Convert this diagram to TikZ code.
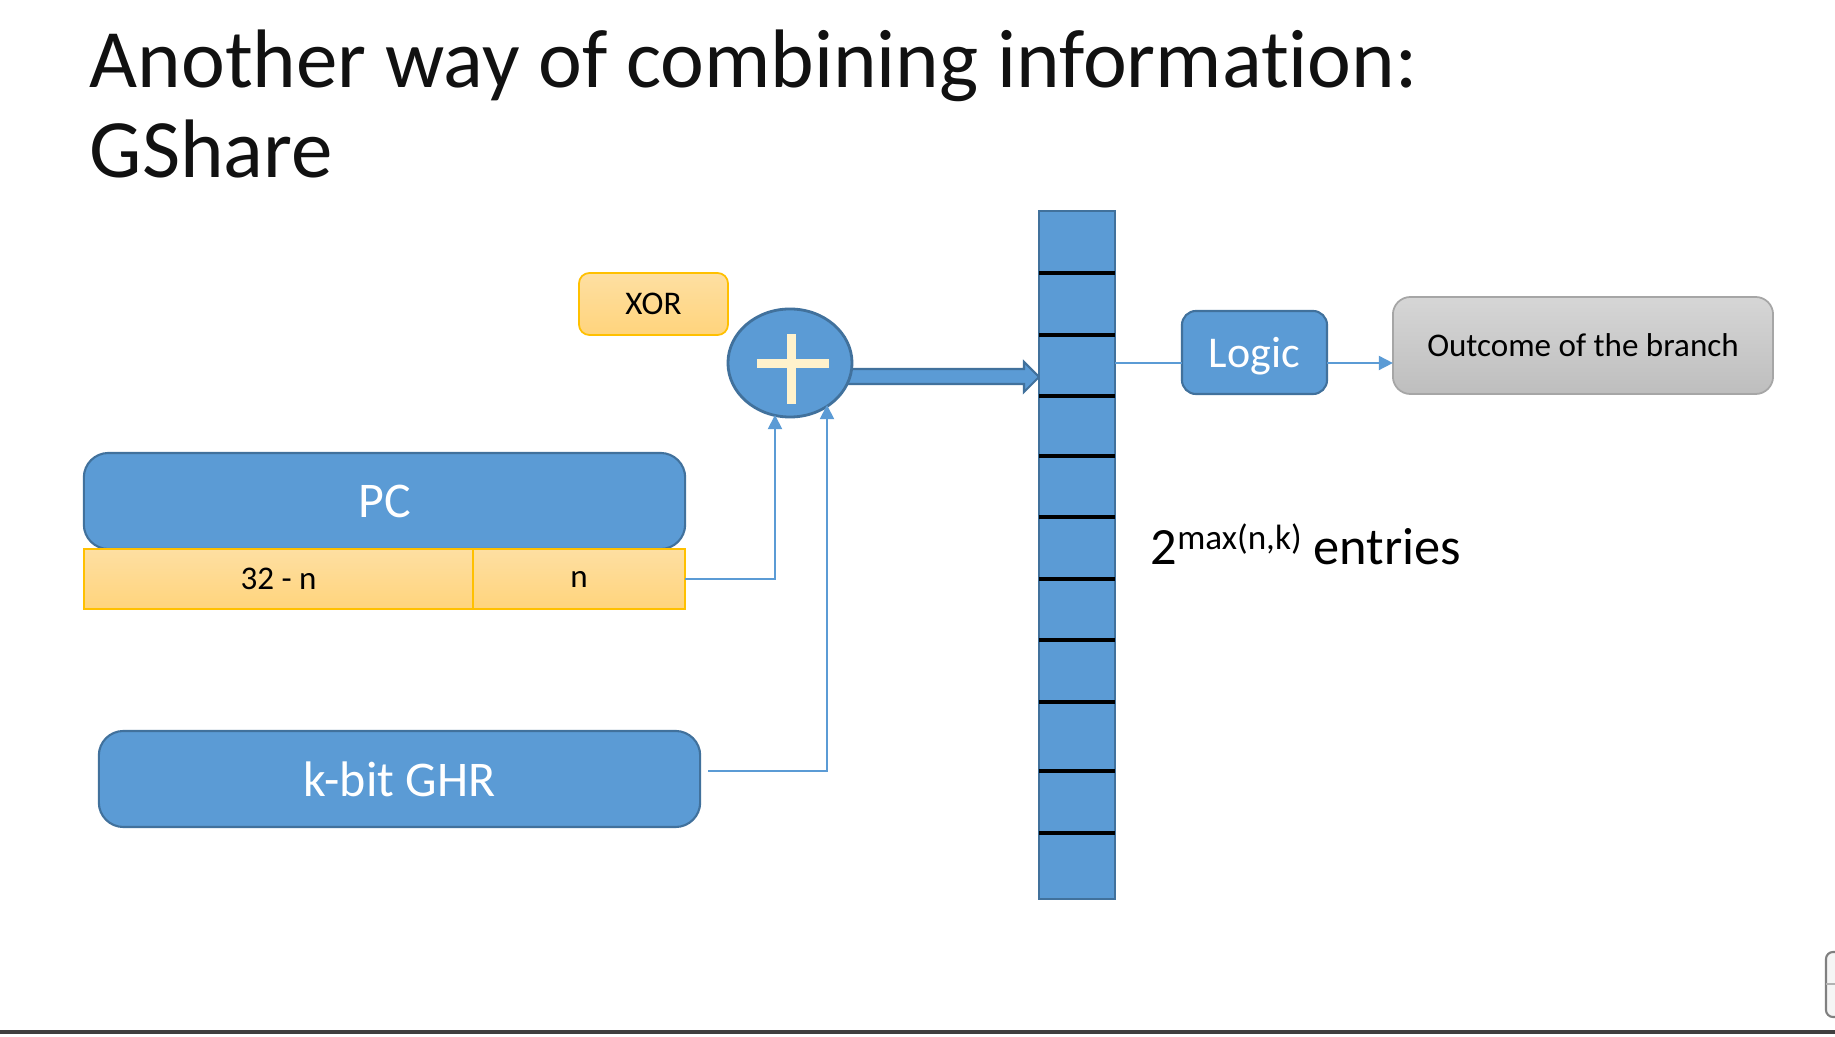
\documentclass[tikz,border=0pt]{standalone}
\usepackage{fontspec}
\setmainfont{Carlito}[Ligatures=NoCommon]
\usetikzlibrary{arrows.meta,shapes.geometric}
\definecolor{boxblue}{HTML}{5B9BD5}
\definecolor{boxedge}{HTML}{41719C}
\definecolor{goldtop}{HTML}{FEDFA2}
\definecolor{goldbot}{HTML}{FFD47C}
\definecolor{goldedge}{HTML}{FFC000}
\definecolor{greytop}{HTML}{D6D6D6}
\definecolor{greybot}{HTML}{BEBEBE}
\definecolor{greyedge}{HTML}{A6A6A6}
\definecolor{cream}{HTML}{FFF2CC}
\definecolor{linkblue}{HTML}{5B9BD5}
\definecolor{rulegrey}{HTML}{404040}
\definecolor{titleink}{HTML}{111111}
\begin{document}
\begin{tikzpicture}[x=0.01cm,y=-0.01cm,
  bluebox/.style={draw=boxedge, line width=0.6pt, fill=boxblue, text=white,
    rounded corners=6pt, inner sep=0pt, outer sep=0pt},
  goldbox/.style={draw=goldedge, line width=0.5pt, top color=goldtop,
    bottom color=goldbot, inner sep=0pt, outer sep=0pt, text=black},
  link/.style={draw=linkblue, line width=0.5pt},
  tip/.style={-{Triangle[length=4pt,width=4pt]}},
  slot/.style={draw=black, line width=1pt},
  small/.style={font=\fontsize{9.4}{11}\selectfont},
  big/.style={font=\fontsize{14.2}{16}\selectfont},
  heading/.style={anchor=base west, inner sep=0pt, text=titleink,
    font=\fontsize{23.6}{26}\selectfont}]
\useasboundingbox (0,0) rectangle (1835,1037);
\fill[white] (0,0) rectangle (1835,1037);

% title
\node[heading] (title1) at (89,88) {Another way of combining information:};
\node[heading] (title2) at (89,178) {GShare};

% XOR label
\node[goldbox, rounded corners=3pt, minimum width=1.49cm, minimum height=0.62cm, small]
  (xor) at (653.5,304) {XOR};

% wide arrow into the table
\draw[draw=boxedge, line width=0.6pt, fill=boxblue]
  (840,369) -- (1024,369) -- (1024,362) -- (1039,377) -- (1024,392) -- (1024,384)
  -- (840,384) -- cycle;

% XOR gate
\node[ellipse, draw=boxedge, line width=0.8pt, fill=boxblue, minimum width=1.24cm,
  minimum height=1.08cm, inner sep=0pt] (sum) at (790,363) {};
\fill[cream] (757,359) rectangle (829,368);
\fill[cream] (787,334) rectangle (796,404);

% prediction table
\node[draw=boxedge, line width=0.6pt, fill=boxblue, minimum width=0.76cm,
  minimum height=6.88cm, inner sep=0pt, outer sep=0pt] (table) at (1077,555) {};
\foreach \y in {273,335,396,456,517,579,640,702,771,833}
  \draw[slot] (table.west |- 0,\y) -- (table.east |- 0,\y);

% logic and outcome
\node[bluebox, rounded corners=4pt, minimum width=1.45cm, minimum height=0.83cm,
  text depth=0pt, font=\fontsize{12.5}{14}\selectfont] (logic) at (1254.5,352.5) {Logic};
\node[draw=greyedge, line width=0.5pt, top color=greytop, bottom color=greybot,
  rounded corners=5pt, minimum width=3.80cm, minimum height=0.97cm, inner sep=0pt,
  outer sep=0pt, text depth=0pt, small] (out) at (1583,345.5) {Outcome of the branch};
\coordinate (row) at (0,363);
\draw[link] (table.east |- row) -- (logic.west |- row);
\draw[link, tip] (logic.east |- row) -- (out.west |- row);

% table size
\node[anchor=base west, inner sep=0pt, font=\fontsize{14.9}{16}\selectfont]
  (entries) at (1150,565)
  {2\raisebox{4.3pt}{\fontsize{10}{12}\selectfont max(n,k)} entries};

% PC register
\node[bluebox, rounded corners=7pt, minimum width=6.01cm, minimum height=0.96cm, big]
  (pc) at (384.5,501) {PC};
\node[goldbox, minimum width=3.89cm, minimum height=0.60cm, small]
  (hi) at (278.5,579) {32 - n};
\node[goldbox, minimum width=2.12cm, minimum height=0.60cm, small]
  (lo) at (579,579) {n};

% global history register
\node[bluebox, rounded corners=7pt, minimum width=6.01cm, minimum height=0.96cm, big]
  (ghr) at (399.5,779) {k-bit GHR};

% inputs of the XOR gate
\coordinate (inA) at (775,415);
\coordinate (inB) at (827,405);
\coordinate (ghrout) at (708,771);
\draw[link, tip] (lo.east) -| (inA);
\draw[link, tip] (ghrout) -| (inB);

% bottom rule and scroll handle
\draw[rulegrey, line width=1.1pt] (0,1032) -- (1835,1032);
\draw[draw=gray, fill=gray!8, rounded corners=2pt, line width=0.6pt]
  (1826,952) rectangle (1850,1017);
\draw[gray!60, line width=0.4pt] (1826,984) -- (1835,984);
\end{tikzpicture}
\end{document}
